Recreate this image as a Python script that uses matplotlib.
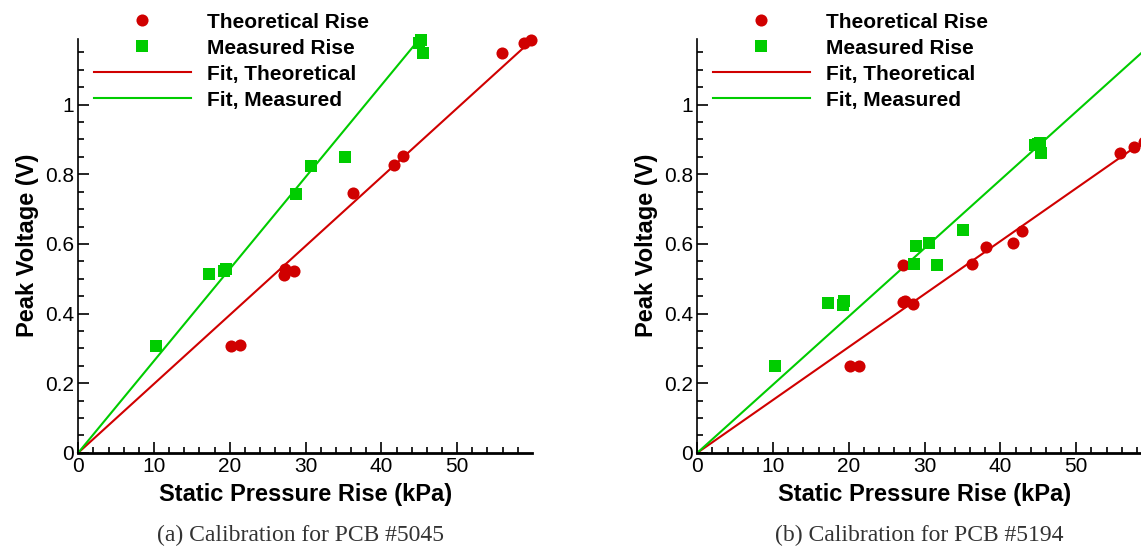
#!/usr/bin/env python3

import matplotlib
matplotlib.use("Agg")
import matplotlib.pyplot as plt
from matplotlib.ticker import MultipleLocator, FormatStrFormatter
from matplotlib.lines import Line2D
import numpy as np

# PCB #5045
theo_x_a = [20.2, 21.4, 27.1, 27.3, 28.5, 36.3, 41.7, 42.9, 55.9, 58.8, 59.7]
theo_v_a = [0.306, 0.311, 0.510, 0.529, 0.522, 0.746, 0.828, 0.852, 1.149, 1.177, 1.187]
meas_x_a = [10.3, 17.2, 19.3, 19.5, 28.7, 30.7, 35.2, 44.9, 45.2, 45.5]
meas_v_a = [0.307, 0.513, 0.522, 0.529, 0.744, 0.825, 0.850, 1.177, 1.187, 1.149]

# PCB #5194
theo_x_b = [20.1, 21.4, 27.1, 27.4, 28.4, 27.2, 36.3, 38.1, 41.7, 42.9, 55.8, 57.6, 58.9]
theo_v_b = [0.248, 0.250, 0.433, 0.435, 0.426, 0.539, 0.542, 0.591, 0.602, 0.637, 0.861, 0.877, 0.893]
meas_x_b = [10.2, 17.3, 19.2, 19.4, 28.6, 28.8, 30.6, 31.6, 35.1, 44.5, 45.0, 45.2, 45.4]
meas_v_b = [0.248, 0.431, 0.425, 0.437, 0.542, 0.593, 0.603, 0.538, 0.639, 0.883, 0.888, 0.890, 0.861]

# linear fits through origin (slope V/kPa, end of line in kPa)
fit_slope_a = [0.0198, 0.0264]
fit_end_a = [59.1, 44.8]
fit_slope_b = [0.0152, 0.0196]
fit_end_b = [60.0, 60.0]

captions = ["(a) Calibration for PCB #5045", "(b) Calibration for PCB #5194"]

RED = "#d00000"
GREEN = "#00cc00"

W, H = 1141, 548
fig = plt.figure(figsize=(W / 100, H / 100), dpi=100)
plt.rcParams["font.family"] = ["Liberation Sans", "DejaVu Sans"]

AX_W = 454.0
AX_TOP, AX_BOT = 38.5, 452.8


def draw_panel(left_px, tx, tv, mx, mv, slopes, ends, caption):
    ax = fig.add_axes([left_px / W, (H - AX_BOT) / H, AX_W / W, (AX_BOT - AX_TOP) / H])
    for k, (s, e) in enumerate(zip(slopes, ends)):
        xs = np.array([0, e])
        ax.plot(xs, s * xs, color=[RED, GREEN][k], lw=1.5, clip_on=False, zorder=2)
    ax.plot(tx, tv, "o", color=RED, ms=8.7, mew=0, clip_on=False, zorder=3)
    ax.plot(mx, mv, "s", color=GREEN, ms=8, mew=0, clip_on=False, zorder=3)

    ax.set_xlim(0, 59.9)
    ax.set_ylim(0, 1.19)
    ax.spines["top"].set_visible(False)
    ax.spines["right"].set_visible(False)
    ax.spines["left"].set_linewidth(1.2)
    ax.spines["bottom"].set_linewidth(2)
    ax.set_xticks(range(0, 51, 10))
    ax.xaxis.set_minor_locator(MultipleLocator(2))
    ax.yaxis.set_major_locator(MultipleLocator(0.2))
    ax.yaxis.set_minor_locator(MultipleLocator(0.05))
    ax.yaxis.set_major_formatter(FormatStrFormatter("%g"))
    ax.tick_params(which="both", direction="in", labelsize=15, width=1.2)
    ax.tick_params(which="major", length=8, pad=3)
    ax.tick_params(which="minor", length=4)
    ax.set_xlabel("Static Pressure Rise (kPa)", fontsize=17, fontweight="bold")
    ax.set_ylabel("Peak Voltage (V)", fontsize=17, fontweight="bold")
    ax.xaxis.set_label_coords(0.5, (AX_BOT - 483) / (AX_BOT - AX_TOP))
    ax.yaxis.set_label_coords(-39.5 / AX_W, 0.5)

    handles = [
        Line2D([], [], ls="none", marker="o", color=RED, ms=8.7, mew=0),
        Line2D([], [], ls="none", marker="s", color=GREEN, ms=8, mew=0),
        Line2D([], [], color=RED, lw=1.5),
        Line2D([], [], color=GREEN, lw=1.5),
    ]
    labels = ["Theoretical Rise", "Measured Rise", "Fit, Theoretical", "Fit, Measured"]
    fig.legend(handles, labels, loc="upper left",
               bbox_to_anchor=((left_px + 15.5) / W, 1 - 12.5 / H),
               frameon=False, prop={"weight": "bold", "size": 15},
               handlelength=4.65, handletextpad=0.8, labelspacing=0.34,
               borderpad=0, borderaxespad=0)

    fig.text((left_px + 222) / W, 1 - 535 / H, caption, ha="center", va="center",
             fontsize=17, color="#333333", family=["Liberation Serif", "DejaVu Serif"])
    return ax


draw_panel(78.2, theo_x_a, theo_v_a, meas_x_a, meas_v_a, fit_slope_a, fit_end_a, captions[0])
draw_panel(697.3, theo_x_b, theo_v_b, meas_x_b, meas_v_b, fit_slope_b, fit_end_b, captions[1])

fig.savefig("out.png", dpi=100)
